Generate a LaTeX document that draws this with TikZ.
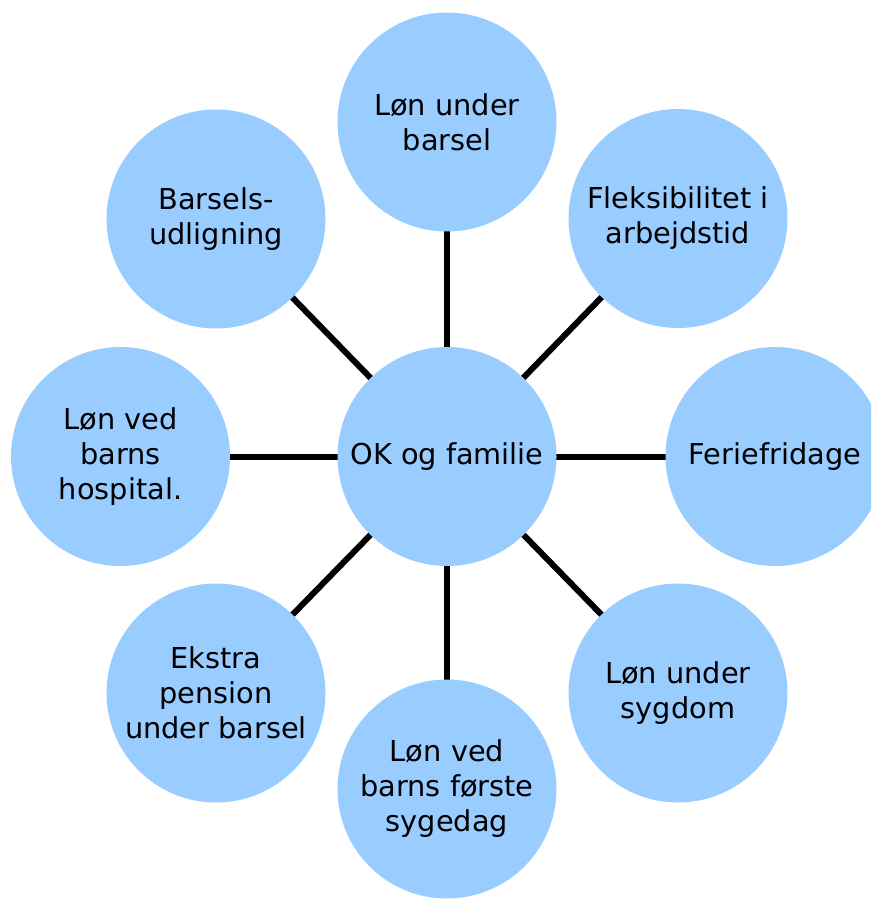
\documentclass[tikz,border=0pt]{standalone}
\usepackage{fontspec}
\setmainfont{DejaVu Sans}
\usetikzlibrary{backgrounds}
\definecolor{bubble}{HTML}{99CCFF}
\tikzset{
  bub/.style={circle, fill=bubble, minimum size=219pt, inner sep=0pt, align=center,
    font=\fontsize{28.8}{35}\selectfont, text=black},
  link/.style={line width=6pt, black}
}
\begin{document}
\begin{tikzpicture}[x=1pt,y=-1pt]
\useasboundingbox (0,0) rectangle (871,899);
\clip (0,0) rectangle (871,899);
\node[bub] (c) at (447,456.5) {OK og familie};
\node[bub] (n) at (447,122) {Løn under\\barsel};
\node[bub] (ne) at (678,218.5) {Fleksibilitet i\\arbejdstid};
\node[bub] (e) at (775,456.5) {Feriefridage};
\node[bub] (se) at (678,693) {Løn under\\sygdom};
\node[bub] (s) at (447,789) {Løn ved\\barns første\\sygedag};
\node[bub] (sw) at (216,693) {Ekstra\\pension\\under barsel};
\node[bub] (w) at (120.5,456.5) {Løn ved\\barns\\hospital.};
\node[bub] (nw) at (216,219) {Barsels-\\udligning};
\begin{pgfonlayer}{background}
\foreach \t in {n,ne,e,se,s,sw,w,nw}
  \draw[link] (c.center) -- (\t.center);
\end{pgfonlayer}
\end{tikzpicture}
\end{document}
